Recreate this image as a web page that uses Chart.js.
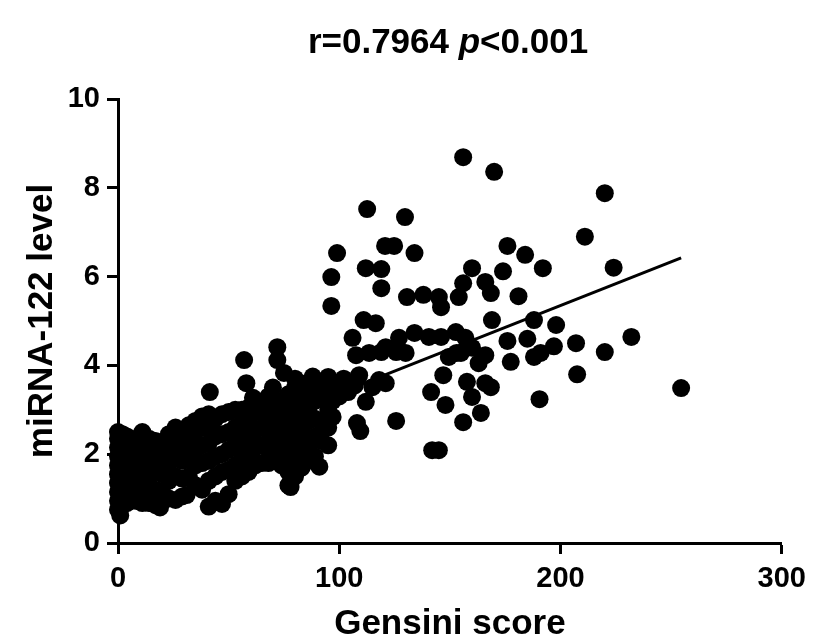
<!DOCTYPE html>
<html>
<head>
<meta charset="utf-8">
<script src="https://cdn.jsdelivr.net/npm/chart.js@4/dist/chart.umd.min.js"></script>
<style>
  body { margin: 0; background: #fff; }
</style>
</head>
<body>
<canvas id="grafico" width="814" height="644"></canvas>
<script>
// Gensini score (x) and miRNA-122 level (y)
const gensini = [
  0, 0, 0, 0, 0, 0, 0, 0, 0, 0,
  1, 1, 1, 1, 1,
  2, 2, 2, 2, 2,
  4, 4, 4, 4, 4, 4,
  6, 6, 6, 6, 6,
  8, 8, 8, 8, 8,
  11, 11, 11, 11, 11, 11,
  14, 14, 14, 14, 14,
  17, 17, 17, 17, 17,
  19,
  20, 20, 20, 20,
  23, 23, 23, 23, 23,
  26, 26, 26, 26, 26,
  29, 29, 29, 29, 29,
  31,
  32, 32, 32, 32,
  35, 35, 35, 35, 35,
  38, 38, 38, 38, 38,
  41, 41, 41, 41, 41, 41,
  41.5,
  44, 44, 44, 44, 44,
  47, 47, 47, 47, 47,
  50, 50, 50, 50, 50,
  53, 53, 53, 53, 53,
  56, 56, 56, 56, 56,
  57, 58,
  59, 59, 59, 59, 59,
  61,
  62, 62, 62, 62,
  65, 65, 65, 65, 65,
  68, 68, 68, 68, 68,
  70,
  71, 71, 71, 71,
  72, 72,
  74, 74, 74, 74, 74,
  75,
  77, 77, 77, 77, 77, 77,
  78,
  80, 80, 80, 80, 80, 80, 80,
  83, 83, 83, 83, 83,
  85,
  86, 86, 86, 86, 86,
  88,
  89, 89, 89, 89, 89,
  91,
  92, 92, 92, 92,
  95, 95, 95, 95, 95,
  97, 97,
  98, 100, 102, 104, 107, 109, 112, 115, 118, 121,
  108, 109.5, 125.7,
  106, 107.6, 113.5, 119, 125.7, 130, 121,
  111, 116.5, 112, 119, 119, 120.7, 124.8, 134, 112.6, 129.7,
  99, 96.4, 96.4, 130.6, 138, 145, 146,
  127, 134, 140.5, 146, 152.7, 157, 155, 149.5, 166, 163, 160,
  141.5, 147, 157.7, 166, 160, 148, 164, 156, 142, 145, 168.5,
  156, 170, 220, 211, 224, 176, 184, 192, 160, 174,
  156, 166, 168.5, 154, 181, 169, 188, 198,
  176, 185, 207, 232, 197, 191, 188, 177.5, 220, 153,
  207.5, 190.5, 254.5
];
const mirna = [
  0.75, 0.95, 1.15, 1.35, 1.55, 1.75, 1.95, 2.15, 2.35, 2.5,
  0.62, 1.05, 1.45, 1.85, 2.25,
  0.85, 1.25, 1.65, 2.05, 2.45,
  0.9, 1.2, 1.5, 1.8, 2.1, 2.4,
  1.0, 1.4, 1.7, 2.0, 2.3,
  0.95, 1.3, 1.65, 2.05, 2.35,
  0.9, 1.1, 1.5, 1.9, 2.2, 2.5,
  0.9, 1.3, 1.7, 2.1, 2.35,
  0.85, 1.2, 1.6, 2.0, 2.3,
  0.8,
  1.15, 1.55, 1.9, 2.25,
  1.0, 1.4, 1.8, 2.15, 2.45,
  0.97, 1.5, 1.95, 2.3, 2.6,
  1.05, 1.45, 1.85, 2.2, 2.55,
  1.08,
  1.5, 2.0, 2.35, 2.65,
  1.3, 1.75, 2.1, 2.5, 2.75,
  1.2, 1.8, 2.2, 2.6, 2.85,
  0.82, 1.4, 1.85, 2.25, 2.65, 2.9,
  3.4,
  0.95, 1.5, 1.95, 2.4, 2.8,
  0.88, 1.6, 2.0, 2.45, 2.9,
  1.1, 1.65, 2.1, 2.5, 2.95,
  1.4, 1.75, 2.2, 2.6, 3.0,
  1.5, 1.9, 2.3, 2.7, 3.0,
  4.12, 3.6,
  1.6, 2.0, 2.4, 2.8, 3.05,
  3.27,
  1.75, 2.15, 2.55, 2.95,
  1.8, 2.2, 2.6, 3.0, 3.1,
  1.8, 2.1, 2.5, 2.9, 3.3,
  3.5,
  1.85, 2.2, 2.6, 3.0,
  4.41, 4.12,
  1.75, 2.0, 2.4, 2.8, 3.2,
  3.83,
  1.3, 1.6, 2.1, 2.5, 2.9, 3.35,
  1.26,
  1.5, 1.9, 2.3, 2.7, 3.1, 3.5, 3.7,
  1.7, 2.1, 2.5, 2.9, 3.3,
  3.6,
  1.85, 2.2, 2.75, 3.0, 3.4,
  3.75,
  1.95, 2.4, 2.8, 3.2, 3.55,
  1.72,
  2.3, 2.7, 3.3, 3.5,
  2.2, 2.6, 3.0, 3.4, 3.74,
  2.84, 3.2,
  3.6, 3.3, 3.7, 3.4, 3.55, 3.78, 3.18, 3.51, 3.67, 3.6,
  2.7, 2.52, 2.75,
  4.62, 4.23, 4.28, 4.3, 4.3, 4.28, 4.41,
  5.02, 4.95, 6.19, 6.17, 5.74, 6.69, 6.69, 6.53, 7.52, 7.34,
  6.53, 5.99, 5.34, 5.54, 5.59, 5.54, 5.31,
  4.62, 4.73, 4.64, 4.64, 4.75, 4.62, 4.28, 4.19, 4.23, 4.05, 4.4,
  3.4, 3.78, 3.63, 3.6, 3.29, 3.11, 2.93, 2.72, 2.09, 2.09, 3.51,
  8.69, 8.36, 7.88, 6.9, 6.2, 6.69, 6.49, 6.19, 6.19, 6.12,
  5.85, 5.88, 5.63, 5.54, 5.56, 5.02, 5.02, 4.91,
  4.55, 4.6, 4.5, 4.64, 4.43, 4.28, 4.19, 4.08, 4.3, 4.28,
  3.8, 3.24, 3.49
];

// regression line ends
const retaX = [0, 254.5];
const retaY = [1.41, 6.42];

const ticksX = [0, 100, 200, 300];
const ticksY = [0, 2, 4, 6, 8, 10];

const pontos = [];
gensini.forEach((g, i) => {
  pontos.push({ x: g, y: mirna[i] });
});
const reta = retaX.map((x, i) => ({ x: x, y: retaY[i] }));

const fonte = "'Liberation Sans', Arial, Helvetica, sans-serif";

/* title with italic p */
const tituloPlugin = {
  id: "titulo",
  afterDraw(chart) {
    const ctx = chart.ctx;
    const partes = [
      { t: "r=0.7964 ", f: "bold 35px " + fonte },
      { t: "p", f: "italic bold 35px " + fonte },
      { t: "<0.001", f: "bold 35px " + fonte },
    ];
    ctx.save();
    let total = 0;
    partes.forEach((p) => {
      ctx.font = p.f;
      p.w = ctx.measureText(p.t).width;
      total += p.w;
    });
    let x = 448 - total / 2;
    ctx.fillStyle = "#000";
    ctx.textBaseline = "alphabetic";
    partes.forEach((p) => {
      ctx.font = p.f;
      ctx.fillText(p.t, x, 53);
      x += p.w;
    });
    ctx.restore();
  },
};

const ctx = document.getElementById("grafico").getContext("2d");
const grafico = new Chart(ctx, {
  type: "scatter",
  data: {
    datasets: [
      {
        label: "miRNA-122",
        data: pontos,
        backgroundColor: "#000",
        borderColor: "#000",
        pointRadius: 9,
        pointHoverRadius: 9,
        borderWidth: 0,
        clip: false,
      },
      {
        type: "line",
        label: "fit",
        data: reta,
        borderColor: "#000",
        borderWidth: 3,
        pointRadius: 0,
        fill: false,
        clip: false,
      },
    ],
  },
  options: {
    responsive: false,
    animation: false,
    events: [],
    layout: {
      padding: { top: 99, right: 30, left: 0, bottom: 0 },
    },
    plugins: {
      legend: { display: false },
      tooltip: { enabled: false },
    },
    scales: {
      x: {
        type: "linear",
        min: 0,
        max: 300,
        afterBuildTicks: (s) => {
          s.ticks = ticksX.map((v) => ({ value: v }));
        },
        afterFit: (s) => {
          s.height = 101;
        },
        border: { display: true, color: "#000", width: 3 },
        grid: {
          drawOnChartArea: false,
          drawTicks: true,
          tickLength: 11,
          tickWidth: 3,
          tickColor: "#000",
        },
        ticks: {
          color: "#000",
          padding: 8,
          font: { family: fonte, size: 29, weight: "bold" },
        },
        title: {
          display: true,
          text: "Gensini score",
          color: "#000",
          padding: { top: 0, bottom: 0 },
          font: { family: fonte, size: 35, weight: "bold", lineHeight: 1.1 },
        },
      },
      y: {
        type: "linear",
        min: 0,
        max: 10,
        afterBuildTicks: (s) => {
          s.ticks = ticksY.map((v) => ({ value: v }));
        },
        afterFit: (s) => {
          s.width = 118;
        },
        border: { display: true, color: "#000", width: 3 },
        grid: {
          drawOnChartArea: false,
          drawTicks: true,
          tickLength: 11,
          tickWidth: 3,
          tickColor: "#000",
        },
        ticks: {
          color: "#000",
          padding: 7,
          font: { family: fonte, size: 29, weight: "bold" },
        },
        title: {
          display: true,
          text: "miRNA-122 level",
          color: "#000",
          padding: { top: 23, bottom: 0 },
          font: { family: fonte, size: 35, weight: "bold", lineHeight: 1.1 },
        },
      },
    },
  },
  plugins: [tituloPlugin],
});
</script>
</body>
</html>
